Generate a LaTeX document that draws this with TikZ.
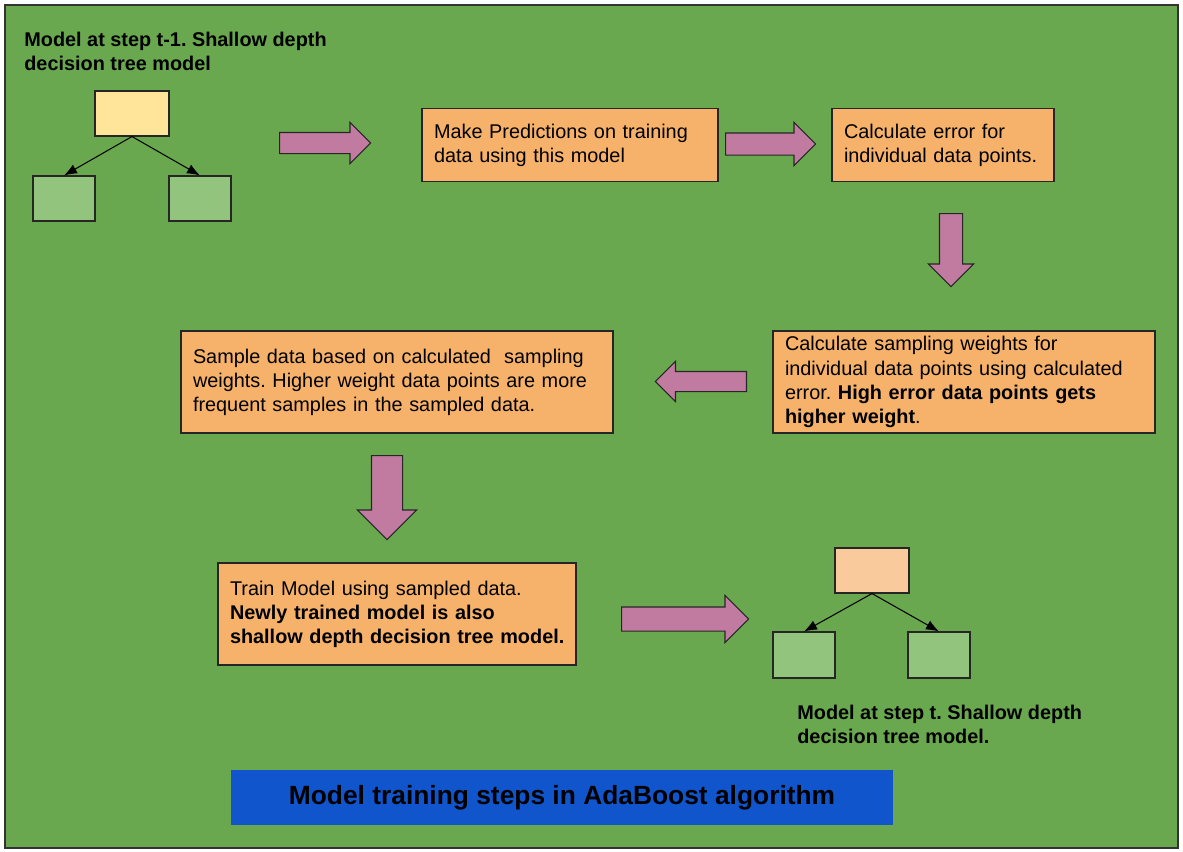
\documentclass[tikz,border=0pt]{standalone}
\usepackage{fontspec}
\setmainfont{Liberation Sans}
\usepackage{tikz}
\usetikzlibrary{shapes,arrows.meta,positioning}
\definecolor{board}{RGB}{106,168,79}
\definecolor{stepfill}{RGB}{246,178,107}
\definecolor{rootold}{RGB}{255,229,153}
\definecolor{rootnew}{RGB}{249,203,156}
\definecolor{leaffill}{RGB}{147,196,125}
\definecolor{flow}{RGB}{194,123,160}
\definecolor{banner}{RGB}{17,85,204}
\frenchspacing

\begin{document}
\begin{tikzpicture}[
    stepbox/.style={rectangle, draw=black!85, fill=stepfill, line width=0.6pt, inner xsep=0.24cm, inner ysep=0pt, align=left, font=\fontsize{11.3}{13.7}\selectfont},
    treenode/.style={rectangle, draw=black!85, line width=0.6pt, minimum width=1.24cm, minimum height=0.9cm},
    bigarrow/.style={single arrow, draw=black!85, fill=flow, line width=0.6pt, inner xsep=0pt, inner ysep=0.2cm, single arrow head extend=0.2cm, anchor=tail},
    note/.style={align=left, inner sep=0pt, anchor=north west, font=\fontsize{11.3}{13.7}\selectfont\bfseries},
    branch/.style={-{Latex[length=0.26cm,width=0.2cm]}, line width=0.6pt}
]
    \useasboundingbox[fill=white] (0,0) rectangle (23.66,-17.02);
    \draw[fill=board, draw=black!80, line width=0.6pt] (0.1,-0.1) rectangle (23.56,-16.96);

    % model at step t-1
    \node[note] (oldlabel) at (0.48,-0.64) {Model at step t-1. Shallow depth\\decision tree model};
    \node[treenode, fill=rootold, minimum width=1.48cm] (oldroot) at (2.64,-2.27) {};
    \node[treenode, fill=leaffill] (oldleafa) at (1.28,-3.97) {};
    \node[treenode, fill=leaffill] (oldleafb) at (4.00,-3.97) {};
    \draw[branch] (oldroot.south) -- (oldleafa.north);
    \draw[branch] (oldroot.south) -- (oldleafb.north);

    % training steps
    \node[stepbox, text width=5.44cm, minimum height=1.46cm] (predict) at (11.40,-2.90) {Make Predictions on training\\data using this model};
    \node[stepbox, text width=3.96cm, minimum height=1.46cm] (error) at (18.86,-2.90) {Calculate error for\\individual data points.};
    \node[stepbox, text width=7.16cm, minimum height=2.04cm] (weights) at (19.28,-7.64) {Calculate sampling weights for\\individual data points using calculated\\error. \textbf{High error data points gets}\\\textbf{higher weight}.};
    \node[stepbox, text width=8.16cm, minimum height=2.04cm] (sample) at (7.94,-7.64) {Sample data based on calculated\ \ sampling\\weights. Higher weight data points are more\\frequent samples in the sampled data.};
    \node[stepbox, text width=6.68cm, minimum height=2.04cm] (train) at (7.94,-12.28) {Train Model using sampled data.\\\textbf{Newly trained model is also}\\\mbox{\textbf{shallow depth decision tree model.}}};

    % block arrows
    \node[bigarrow, minimum height=1.82cm] (go1) at (5.58,-2.86) {};
    \node[bigarrow, minimum height=1.80cm, inner ysep=0.21cm, single arrow head extend=0.21cm] (go2) at (14.50,-2.88) {};
    \node[bigarrow, rotate=-90, minimum height=1.46cm, inner ysep=0.22cm, single arrow head extend=0.22cm] (go3) at (19.02,-4.26) {};
    \node[bigarrow, rotate=180, minimum height=1.82cm, inner ysep=0.19cm, single arrow head extend=0.20cm] (go4) at (14.94,-7.63) {};
    \node[bigarrow, rotate=-90, minimum height=1.68cm, inner ysep=0.30cm, single arrow head extend=0.28cm] (go5) at (7.74,-9.10) {};
    \node[bigarrow, minimum height=2.54cm, inner ysep=0.23cm, single arrow head extend=0.23cm] (go6) at (12.42,-12.38) {};

    % model at step t
    \node[treenode, fill=rootnew, minimum width=1.48cm] (newroot) at (17.44,-11.41) {};
    \node[treenode, fill=leaffill, minimum height=0.92cm] (newleafa) at (16.08,-13.10) {};
    \node[treenode, fill=leaffill, minimum height=0.92cm] (newleafb) at (18.78,-13.10) {};
    \draw[branch] (newroot.south) -- (newleafa.north);
    \draw[branch] (newroot.south) -- (newleafb.north);
    \node[note] (newlabel) at (15.94,-14.10) {Model at step t. Shallow depth\\decision tree model.};

    \node[fill=banner, minimum width=13.24cm, minimum height=1.10cm, font=\fontsize{15}{18}\selectfont\bfseries] (title) at (11.24,-15.95) {Model training steps in AdaBoost algorithm};
\end{tikzpicture}
\end{document}
